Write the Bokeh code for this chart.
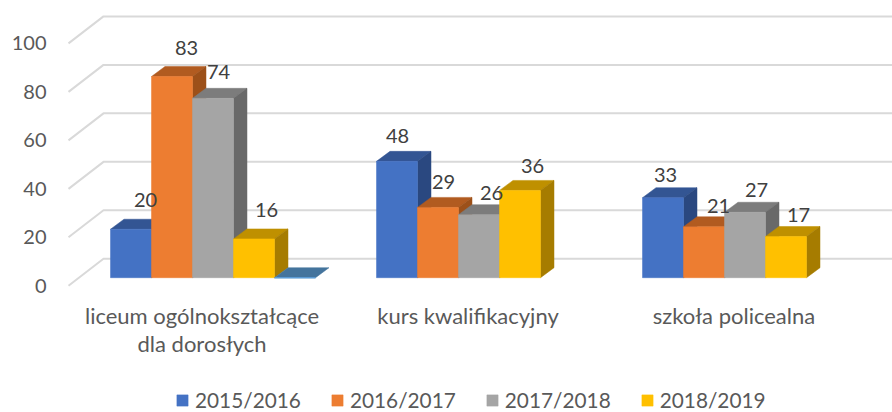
from bokeh.plotting import figure
from bokeh.models import Range1d, LinearAxis, FixedTicker, Legend, LegendItem, ColumnDataSource
from bokeh.core.properties import value
from bokeh.embed import file_html
from bokeh.resources import INLINE

categories = ["liceum ogólnokształcące\ndla dorosłych", "kurs kwalifikacyjny", "szkoła policealna"]
seasons = ["2015/2016", "2016/2017", "2017/2018", "2018/2019"]
s2015 = [20, 48, 33]
s2016 = [83, 29, 21]
s2017 = [74, 26, 27]
s2018 = [16, 36, 17]
s_extra = [0, None, None]
y_ticks = [0, 20, 40, 60, 80, 100]

# style / layout (page pixels)
front_cols = ["#4472C4", "#ED7D31", "#A5A5A5", "#FFC000", "#5B9BD5"]
top_cols = ["#335593", "#B15B20", "#7C7C7C", "#BF9000", "#44749D"]
side_cols = ["#2A4880", "#9C5019", "#696969", "#A67C00", "#3A6286"]
label_dx = [[35, 21, 23], [35, 26, 35], [26, 33, 32], [33, 33, 33]]
label_up = [[29, 25, 23], [29, 25, 21], [26, 22, 22], [29, 24, 21]]
PX = 2.424          # pixels per unit
Y0 = 277.2          # page y of value 0
LEFT, RIGHT, TOP, BOTTOM = 50, 892, 0, 412
GROUP0, GROUP_STEP, BAR_W = 110.0, 266.0, 41.0
DX, DY = 13.5, 10.0 / PX
WALL_X, WALL_Y = 103.0, 258.3
FRONT_X, FRONT_Y = 68.0, 285.3
CAT_Y, CAT_LINE = 315.0, 28.0

p = figure(width=892, height=412, frame_width=RIGHT - LEFT, frame_height=BOTTOM - TOP,
           output_backend="svg", toolbar_location=None,
           x_range=Range1d(LEFT, RIGHT),
           y_range=Range1d((Y0 - BOTTOM) / PX, (Y0 - TOP) / PX),
           min_border=0, min_border_left=LEFT, min_border_right=0, min_border_top=0,
           min_border_bottom=0,
           x_axis_location=None, y_axis_location=None, outline_line_color=None)
p.xgrid.visible = False
p.ygrid.visible = False
p.background_fill_color = None
p.border_fill_color = None

# walls / gridlines
wall_off = (Y0 - WALL_Y) / PX
front_off = (Y0 - FRONT_Y) / PX
xs = [[FRONT_X, WALL_X, RIGHT + 10] for _ in y_ticks]
ys = [[v + front_off, v + wall_off, v + wall_off] for v in y_ticks]
p.multi_line(xs, ys, line_color="#D9D9D9", line_width=2)

# bars
all_series = [s2015, s2016, s2017, s2018, s_extra]
legend_items = []
for j, series in enumerate(all_series):
    g = [i for i, v in enumerate(series) if v is not None]
    x0 = [GROUP0 + GROUP_STEP * i + BAR_W * j for i in g]
    x1 = [x + BAR_W for x in x0]
    v = [series[i] for i in g]
    p.patches([[a, b, b + DX, a + DX] for a, b in zip(x0, x1)],
              [[h, h, h + DY, h + DY] for h in v],
              fill_color=top_cols[j], line_color=top_cols[j], line_width=0.5)
    if j < 4:
        p.patches([[b, b + DX, b + DX, b] for b in x1],
                  [[0, DY, h + DY, h] for h in v],
                  fill_color=side_cols[j], line_color=side_cols[j], line_width=0.5)
    r = p.quad(left=x0, right=x1, bottom=[0] * len(v), top=v,
               fill_color=front_cols[j], line_color=front_cols[j], line_width=0.5 if j < 4 else 1.5)
    if j < 4:
        legend_items.append(LegendItem(label=seasons[j], renderers=[r]))

# data labels
lx, ly, lt, lox, loy = [], [], [], [], []
for j, series in enumerate(all_series[:4]):
    for i, v in enumerate(series):
        lx.append(GROUP0 + GROUP_STEP * i + BAR_W * j)
        ly.append(v)
        lt.append(str(v))
        lox.append(label_dx[j][i])
        loy.append(-label_up[j][i])
src = ColumnDataSource(dict(x=lx, y=ly, t=lt, ox=lox, oy=loy))
p.text("x", "y", text="t", source=src, x_offset="ox", y_offset="oy", text_align="center", text_baseline="middle",
       text_font=value("Lato"), text_font_size="20px", text_color="#404040")

# value axis sits on the front plane
p.extra_y_ranges["front"] = Range1d(p.y_range.start - front_off, p.y_range.end - front_off)
ya = LinearAxis(y_range_name="front", ticker=FixedTicker(ticks=y_ticks))
ya.axis_line_color = None
ya.major_tick_line_color = None
ya.minor_tick_line_color = None
ya.major_tick_out = 0
ya.major_tick_in = 0
ya.major_label_standoff = 4
ya.major_label_text_font = "Lato"
ya.major_label_text_font_size = "20px"
ya.major_label_text_color = "#595959"
p.add_layout(ya, "left")

# category labels (inside the frame, below the floor)
cx, cy, ct = [], [], []
for i, cat in enumerate(categories):
    for k, line in enumerate(cat.split("\n")):
        cx.append(GROUP0 + GROUP_STEP * i + BAR_W * 2.5 - 11)
        cy.append((Y0 - CAT_Y - k * CAT_LINE) / PX)
        ct.append(line)
p.text(cx, cy, text=ct, text_align="center", text_baseline="middle",
       text_font=value("Lato"), text_font_size="22px", text_color="#595959")

legend = Legend(items=legend_items, orientation="horizontal", location=(125, 0),
                glyph_width=14, glyph_height=14, label_standoff=6, spacing=29, padding=0, margin=0,
                border_line_color=None, background_fill_alpha=0,
                label_text_font="Lato", label_text_font_size="20.8px", label_text_color="#595959")
p.add_layout(legend, "center")

open("out.html", "w").write(file_html(p, INLINE))
